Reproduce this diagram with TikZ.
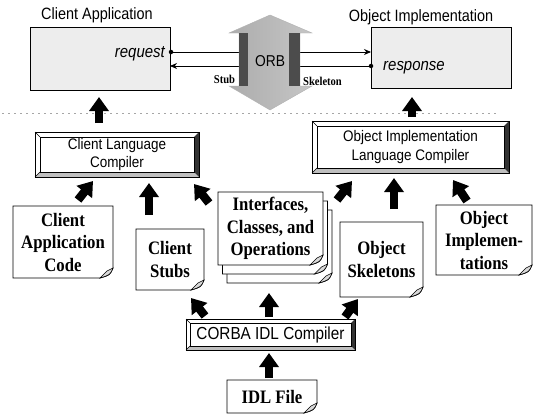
\documentclass[tikz,border=0pt]{standalone}
\usepackage{fontspec}
\setmainfont[FakeStretch=0.88]{Liberation Serif}
\setsansfont[FakeStretch=0.88]{Liberation Sans}
\usetikzlibrary{arrows.meta,calc}

\pgfdeclarelayer{bg}
\pgfsetlayers{bg,main}

% page outline with a curled lower right corner; #2/#3 shift the page right/down
\newcommand\docoutline[3]{%
  \draw[line width=0.8pt, fill=white]
    ([xshift=#2,yshift=-#3]#1.north west) -- ([xshift=#2,yshift=-#3]#1.north east)
    -- ([xshift=#2,yshift=10pt-#3]#1.south east)
    .. controls ([xshift=#2-3pt,yshift=3pt-#3]#1.south east) .. ([xshift=#2-13pt,yshift=-#3]#1.south east)
    -- ([xshift=#2,yshift=-#3]#1.south west) -- cycle;
  \draw[line width=0.6pt, fill=gray!30]
    ([xshift=#2-13pt,yshift=-#3]#1.south east) -- ([xshift=#2-6pt,yshift=7pt-#3]#1.south east)
    -- ([xshift=#2,yshift=10pt-#3]#1.south east)
    .. controls ([xshift=#2-3pt,yshift=3pt-#3]#1.south east) .. cycle;
}

% raised button frame around a compiler node; #2 is the bevel width
\newcommand\bevelframe[2]{%
  \fill[gray!50] (#1.south west) -- (#1.south east) -- ([xshift=-#2,yshift=#2]#1.south east) -- ([xshift=#2,yshift=#2]#1.south west) -- cycle;
  \fill[black!80] (#1.south east) -- (#1.north east) -- ([xshift=-#2,yshift=-#2]#1.north east) -- ([xshift=-#2,yshift=#2]#1.south east) -- cycle;
  \draw[line width=0.5pt] ([xshift=#2,yshift=-#2]#1.north west) rectangle ([xshift=-#2,yshift=#2]#1.south east);
  \draw[line width=0.5pt] (#1.north west) -- ([xshift=#2,yshift=-#2]#1.north west)
     (#1.south west) -- ([xshift=#2,yshift=#2]#1.south west);
  \draw[line width=0.9pt] (#1.north west) rectangle (#1.south east);
}

\begin{document}
\begin{tikzpicture}[x=1pt,y=-1pt,
  lbl/.style={font=\sffamily\fontsize{16.4}{19}\selectfont, inner sep=0pt},
  win/.style={draw, line width=0.8pt, fill=gray!14, inner sep=0pt, outer sep=0pt},
  doc/.style={font=\rmfamily\bfseries\fontsize{19}{22.5}\selectfont, align=center, inner sep=0pt, outer sep=0pt},
  comp/.style={font=\sffamily\fontsize{15.3}{18.5}\selectfont, align=center, inner sep=0pt, outer sep=0pt},
  fat/.style={line width=8.5pt, -{Triangle[length=14pt,width=19pt]}},
  msg/.style={line width=0.9pt, -{Stealth[length=7pt,width=6pt]}},
  dot/.style={circle, fill, inner sep=0pt, minimum size=4.5pt},
  sep/.style={draw=gray!70, line width=0.8pt, dash pattern=on 1.5pt off 4.5pt},
  wire/.style={font=\rmfamily\bfseries\fontsize{12}{14}\selectfont, inner sep=0pt},
]
\useasboundingbox (0,0) rectangle (537,415);

% ---------- run-time view ----------
\node[win, minimum width=140pt, minimum height=63pt] (capp) at (100,58.5) {};
\node[win, minimum width=140pt, minimum height=61pt] (oimp) at (441,57.5) {};
\node[lbl] (capplbl) at (97,15) {Client Application};
\node[lbl] (oimplbl) at (421,17) {Object Implementation};
\node[font=\sffamily\itshape\fontsize{17}{19}\selectfont, inner sep=0pt, anchor=base east] (req) at (165,57) {request};
\node[font=\sffamily\itshape\fontsize{17}{19}\selectfont, inner sep=0pt, anchor=base west] (resp) at (383,70) {response};

\node[dot] (rqdot) at (171,52) {};
\node[dot] (rsdot) at (371,66) {};
\draw[msg] (rqdot.center) -- (oimp.west |- rqdot);
\draw[msg] (rsdot.center) -- (capp.east |- rsdot);

% the ORB drawn as a shaded double-headed arrow
\path[draw=gray!60, line width=0.4pt, left color=gray!65, middle color=gray!20, right color=gray!45]
  (270,15) -- (312,33) -- (300,33) -- (300,86) -- (312,86) -- (270,110)
  -- (229,86) -- (239,86) -- (239,33) -- (229,33) -- cycle;
\fill[black!70] (239,33) rectangle (248,86);
\fill[black!70] (289,33) rectangle (300,86);
\node[font=\sffamily\fontsize{15.7}{18}\selectfont, inner sep=0pt] (orb) at (270,61) {ORB};
\node[wire] (stub) at (224.5,79) {Stub};
\node[wire] (skel) at (322.5,81) {Skeleton};

% separator between run time and build time
\coordinate (sepL) at (2,113);
\coordinate (sepR) at (497,113);
\draw[sep] (sepL) -- (sepR);

% ---------- build-time view ----------
\node[comp, minimum width=164pt, minimum height=45pt] (clc) at (117,154.5) {Client Language\\Compiler};
\node[comp, minimum width=197pt, minimum height=52pt] (oilc) at (410.5,147) {Object Implementation\\Language Compiler};
\node[comp, font=\sffamily\fontsize{17.4}{19}\selectfont, minimum width=169pt, minimum height=31pt] (corba) at (270.5,334.5) {CORBA IDL Compiler};
\bevelframe{clc}{5pt}
\bevelframe{oilc}{5pt}
\bevelframe{corba}{4pt}

\node[doc, minimum width=100pt, minimum height=72pt] (cac) at (63,242) {Client\\Application\\Code};
\node[doc, minimum width=68pt, minimum height=61pt] (cst) at (170,259.5) {Client\\Stubs};
\node[doc, minimum width=105pt, minimum height=73pt] (ico) at (270.5,228.5) {Interfaces,\\Classes, and\\Operations};
\node[doc, minimum width=83pt, minimum height=75pt] (osk) at (381.5,259.5) {Object\\Skeletons};
\node[doc, minimum width=96pt, minimum height=70pt] (oim) at (484,240) {Object\\Implemen-\\tations};
\node[doc, minimum width=90pt, minimum height=33pt] (idl) at (272,396.5) {IDL File};

\begin{pgfonlayer}{bg}
  \fill[white] (0,0) rectangle (537,415);
  \docoutline{cac}{0pt}{0pt}
  \docoutline{cst}{0pt}{0pt}
  \docoutline{ico}{9pt}{18pt}
  \docoutline{ico}{4.5pt}{9pt}
  \docoutline{ico}{0pt}{0pt}
  \docoutline{osk}{0pt}{0pt}
  \docoutline{oim}{0pt}{0pt}
  \docoutline{idl}{0pt}{0pt}
\end{pgfonlayer}

% block arrows
\draw[fat] ([shift={(-18,-9)}]clc.north) -- ([shift={(-1,7)}]capp.south);
\draw[fat] ([shift={(1.5,-4)}]oilc.north) -- ([shift={(-29,9)}]oimp.south);
\draw[fat] ([shift={(15,-6)}]cac.north) -- ([shift={(-24,4)}]clc.south);
\draw[fat] ([shift={(-21,-14)}]cst.north) -- ([shift={(32,6)}]clc.south);
\draw[fat] ([shift={(-9,11)}]ico.north west) -- ([shift={(-5,7)}]clc.south east);
\draw[fat] ([shift={(14,8)}]ico.north east) -- ([shift={(40,8)}]oilc.south west);
\draw[fat] ([shift={(12.5,-13)}]osk.north) -- ([shift={(-16.5,5)}]oilc.south);
\draw[fat] ([shift={(-17,-4)}]oim.north) -- ([shift={(42.5,7)}]oilc.south);
\draw[fat] ([shift={(19,-3)}]corba.north west) -- ([shift={(21,8)}]cst.south);
\draw[fat] ([shift={(-1.5,-2)}]corba.north) -- ([shift={(-1.5,28)}]ico.south);
\draw[fat] ([shift={(-10,-2)}]corba.north east) -- ([shift={(18,2)}]osk.south west);
\draw[fat] ([shift={(-3,-2)}]idl.north) -- ([shift={(-1.5,3)}]corba.south);
\end{tikzpicture}
\end{document}
